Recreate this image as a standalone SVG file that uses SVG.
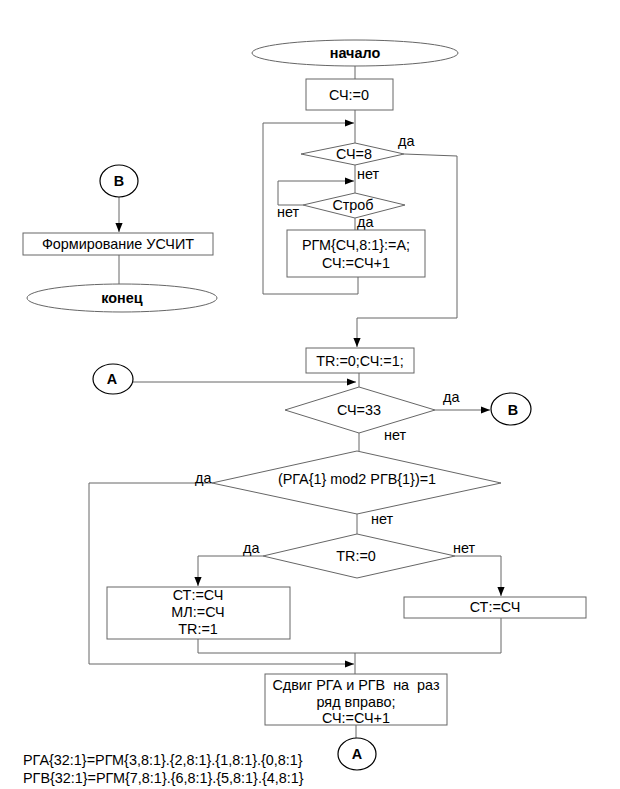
<svg xmlns="http://www.w3.org/2000/svg" width="620" height="789" viewBox="0 0 620 789">
<style>
.s{fill:#fff;stroke:#666;stroke-width:1}
.c{fill:none;stroke:#666;stroke-width:1}
.t{font-family:"Liberation Sans",Arial,sans-serif;font-size:14.4px;fill:#000}
.m{text-anchor:middle}
.b{font-weight:bold}
.k{fill:#fff;stroke:#000;stroke-width:1.2}
.p{white-space:pre}
</style>
<defs>
<marker id="a" viewBox="0 0 10 10" refX="10" refY="5" markerWidth="9" markerHeight="9" orient="auto" markerUnits="userSpaceOnUse">
<path d="M0,1 L10,5 L0,9 z" fill="#000"/>
</marker>
</defs>
<rect width="620" height="789" fill="#fff"/>
<g id="connectors">
<path class="c" d="M355,66 V79"/>
<path class="c" d="M355,110 V143"/>
<path class="c" d="M358,277 V294 H263 V123 H354" marker-end="url(#a)"/>
<path class="c" d="M355,165 V193"/>
<path class="c" d="M303,205 H278 V181 H354" marker-end="url(#a)"/>
<path class="c" d="M355,218 V230"/>
<path class="c" d="M404,154 L457,156 V318 H357 V347" marker-end="url(#a)"/>
<path class="c" d="M119,197 V232" marker-end="url(#a)"/>
<path class="c" d="M119,255 V284"/>
<path class="c" d="M133,382 H356" marker-end="url(#a)"/>
<path class="c" d="M359,373 V387"/>
<path class="c" d="M435,410 H490" marker-end="url(#a)"/>
<path class="c" d="M359,433 V451"/>
<path class="c" d="M212,483 H89 V664 H354" marker-end="url(#a)"/>
<path class="c" d="M357,514 V534"/>
<path class="c" d="M263,556 H198 V586" marker-end="url(#a)"/>
<path class="c" d="M455,556 H501 V596" marker-end="url(#a)"/>
<path class="c" d="M198,639 V653 H501 V618"/>
<path class="c" d="M355,653 V674"/>
<path class="c" d="M356,725 V738"/>
</g>
<g id="start">
<ellipse class="s" cx="355" cy="53" rx="103" ry="13"/>
<text class="t m b" x="355" y="58">начало</text>
</g>
<g id="init">
<rect class="s" x="306" y="79" width="87" height="31"/>
<text class="t m" x="349" y="100">СЧ:=0</text>
</g>
<g id="cond8">
<polygon class="s" points="301,154 355,143 404,154 355,165"/>
<text class="t m" x="354" y="159">СЧ=8</text>
<text class="t" x="398" y="146">да</text>
<text class="t" x="357" y="179">нет</text>
</g>
<g id="strob">
<polygon class="s" points="303,205 355,193 405,205 355,218"/>
<text class="t m" x="353" y="210">Строб</text>
<text class="t" x="277" y="217">нет</text>
<text class="t" x="357" y="227">да</text>
</g>
<g id="load">
<rect class="s" x="287" y="230" width="138" height="47"/>
<text class="t m" x="356" y="250">РГМ{СЧ,8:1}:=A;</text>
<text class="t m" x="356" y="268">СЧ:=СЧ+1</text>
</g>
<g id="connB1">
<ellipse class="k" cx="119" cy="181" rx="19" ry="16"/>
<text class="t m b" x="119" y="186">B</text>
</g>
<g id="form">
<rect class="s" x="23" y="233" width="190" height="22"/>
<text class="t m" x="118" y="249">Формирование УСЧИТ</text>
</g>
<g id="end">
<ellipse class="s" cx="122" cy="298" rx="95" ry="14"/>
<text class="t m b" x="122" y="303">конец</text>
</g>
<g id="tr0">
<rect class="s" x="306" y="348" width="108" height="25"/>
<text class="t m" x="360" y="366">TR:=0;СЧ:=1;</text>
</g>
<g id="connA1">
<ellipse class="k" cx="113" cy="379" rx="20" ry="15"/>
<text class="t m b" x="112" y="384">A</text>
</g>
<g id="cond33">
<polygon class="s" points="285,410 359,387 435,410 359,433"/>
<text class="t m" x="359" y="415">СЧ=33</text>
<text class="t" x="443" y="402">да</text>
<text class="t" x="384" y="440">нет</text>
</g>
<g id="connB2">
<ellipse class="k" cx="511" cy="409" rx="20" ry="16"/>
<text class="t m b" x="513" y="415">B</text>
</g>
<g id="condmod">
<polygon class="s" points="212,483 357,451 501,483 357,514"/>
<text class="t m" x="357" y="484">(РГА{1} mod2 РГВ{1})=1</text>
<text class="t" x="195" y="483">да</text>
<text class="t" x="371" y="524">нет</text>
</g>
<g id="condtr">
<polygon class="s" points="263,556 357,534 455,556 357,578"/>
<text class="t m" x="356" y="561">TR:=0</text>
<text class="t" x="243" y="553">да</text>
<text class="t" x="453" y="553">нет</text>
</g>
<g id="boxL">
<rect class="s" x="107" y="587" width="183" height="52"/>
<text class="t m" x="198" y="600">СТ:=СЧ</text>
<text class="t m" x="198" y="617">МЛ:=СЧ</text>
<text class="t m" x="198" y="634">TR:=1</text>
</g>
<g id="boxR">
<rect class="s" x="404" y="597" width="182" height="21"/>
<text class="t m" x="495" y="612">СТ:=СЧ</text>
</g>
<g id="shift">
<rect class="s" x="265" y="674" width="182" height="51"/>
<text class="t m p" x="356" y="690" xml:space="preserve">Сдвиг РГА и РГВ  на  раз</text>
<text class="t m" x="356" y="707">ряд вправо;</text>
<text class="t m" x="356" y="723">СЧ:=СЧ+1</text>
</g>
<g id="connA2">
<ellipse class="k" cx="357" cy="754" rx="19" ry="16"/>
<text class="t m b" x="357" y="759">A</text>
</g>
<g id="notes">
<text class="t" x="23" y="765">РГА{32:1}=РГМ{3,8:1}.{2,8:1}.{1,8:1}.{0,8:1}</text>
<text class="t" x="23" y="783">РГВ{32:1}=РГМ{7,8:1}.{6,8:1}.{5,8:1}.{4,8:1}</text>
</g>
</svg>
